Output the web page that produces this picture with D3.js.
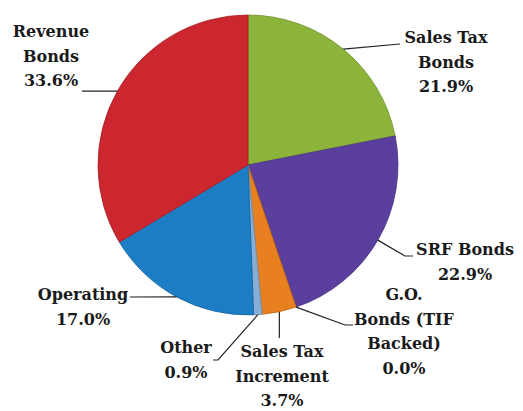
<!DOCTYPE html>
<html><head><meta charset="utf-8">
<script src="https://cdn.jsdelivr.net/npm/d3@7"></script>
<style>body{margin:0;background:#fff}svg{display:block}</style>
</head><body>
<svg id="c" width="523" height="411"></svg>
<script>
const categories = ["Sales Tax Bonds","SRF Bonds","G.O. Bonds (TIF Backed)","Sales Tax Increment","Other","Operating","Revenue Bonds"];
const values = [21.9, 22.9, 0.0, 3.7, 0.9, 17.0, 33.6];
const colors = ["#8cb43a","#5b3f9e","#6a3d8f","#e8801f","#86aed6","#1c7cc4","#cc262e"];
const labelLines = [
  ["Sales Tax","Bonds","21.9%"],
  ["SRF Bonds","22.9%"],
  ["G.O.","Bonds (TIF","Backed)","0.0%"],
  ["Sales Tax","Increment","3.7%"],
  ["Other","0.9%"],
  ["Operating","17.0%"],
  ["Revenue","Bonds","33.6%"]
];
// label text anchor (center x, first baseline y) and leader route
const labelPos = [[446,43],[465,255],[404,300],[282,357],[186,353],[83,300],[51,37]];
const leaderRoute = [
  [[400,44]],
  [[405,256],[413,256]],
  [[345,325],[353,325]],
  [[null,338]],
  [[218,360],[213,360]],
  [[130,297]],
  [[82,null]]
];

const svg = d3.select("#c");
const cx = 248, cy = 165, r = 150;
const pie = d3.pie().sort(null).value(d => d)(values);
const arc = d3.arc().innerRadius(0).outerRadius(r);
const g = svg.append("g").attr("transform", `translate(${cx},${cy})`);
g.selectAll("path").data(pie).join("path")
  .attr("d", arc)
  .attr("fill", (d,i) => colors[i])
  .attr("stroke", (d,i) => d3.color(colors[i]).darker(0.6))
  .attr("stroke-width", 0.8);

pie.forEach((d,i) => {
  const a = (d.startAngle + d.endAngle)/2;
  const ex = cx + r*Math.sin(a), ey = cy - r*Math.cos(a);
  const pts = [[ex,ey]].concat(leaderRoute[i].map(p => [p[0]===null?ex:p[0], p[1]===null?ey:p[1]]));
  svg.append("path").attr("d", d3.line()(pts))
    .attr("fill","none").attr("stroke","#222").attr("stroke-width",1.2);
  const t = svg.append("text")
    .attr("font-family","'DejaVu Serif', serif").attr("font-weight","bold")
    .attr("font-size",16).attr("fill","#1a1a1a").attr("text-anchor","middle");
  labelLines[i].forEach((s,k) => {
    t.append("tspan").attr("x", labelPos[i][0]).attr("y", labelPos[i][1] + k*24.5).text(s);
  });
});
</script>
</body></html>
